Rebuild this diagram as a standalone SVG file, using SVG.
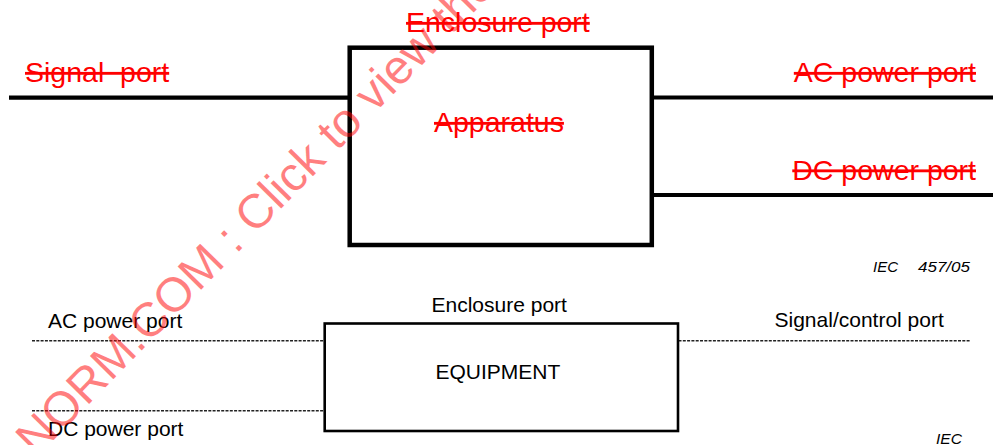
<svg xmlns="http://www.w3.org/2000/svg" width="1003" height="445" viewBox="0 0 1003 445">
<style>
.red{font-family:"Liberation Sans",Arial,sans-serif;font-size:28.5px;fill:#ff0000;text-decoration:line-through}
.blk{font-family:"Liberation Sans",Arial,sans-serif;font-size:21px;fill:#000}
.iec{font-family:"Liberation Sans",Arial,sans-serif;font-size:14.5px;font-style:italic;fill:#000}
.thick{stroke:#000;stroke-width:4.2;fill:none}
.dash{stroke:#222;stroke-width:1.6;stroke-dasharray:3 1.3;fill:none}
.wm{font-family:"Liberation Sans",Arial,sans-serif;font-size:48px;fill:#ff0000;fill-opacity:0.5}
</style>
<rect width="1003" height="445" fill="#fff"/>
<g id="connectors">
<line class="thick" x1="9" y1="97.6" x2="349.7" y2="97.6"/>
<line class="thick" x1="651.8" y1="97.5" x2="993" y2="97.5"/>
<line class="thick" x1="651.8" y1="195" x2="993" y2="195"/>
<line class="dash" x1="32" y1="340.8" x2="324.7" y2="340.8"/>
<line class="dash" x1="32" y1="410.8" x2="324.7" y2="410.8"/>
<line class="dash" x1="678.5" y1="340.8" x2="970" y2="340.8"/>
</g>
<g id="apparatus">
<rect x="349.7" y="47.7" width="302.1" height="197.3" fill="none" stroke="#000" stroke-width="4.5"/>
<text class="red" x="434" y="132">Apparatus</text>
</g>
<g id="top-labels">
<text class="red" x="406" y="32">Enclosure port</text>
<text class="red" x="25" y="82" xml:space="preserve">Signal  port</text>
<text class="red" x="976" y="82" text-anchor="end">AC power port</text>
<text class="red" x="976" y="179.5" text-anchor="end">DC power port</text>
<text class="iec" y="272"><tspan x="873" textLength="25" lengthAdjust="spacingAndGlyphs">IEC</tspan><tspan x="918" textLength="52" lengthAdjust="spacingAndGlyphs">457/05</tspan></text>
</g>
<g id="equipment">
<rect x="324.7" y="323.5" width="353.3" height="107.5" fill="none" stroke="#000" stroke-width="2.6"/>
<text class="blk" x="435.5" y="379">EQUIPMENT</text>
</g>
<g id="bottom-labels">
<text class="blk" x="431.5" y="312">Enclosure port</text>
<text class="blk" x="48" y="327.5">AC power port</text>
<text class="blk" x="48" y="436">DC power port</text>
<text class="blk" x="774.5" y="327">Signal/control port</text>
<text class="iec" x="936" y="443.5" textLength="26" lengthAdjust="spacingAndGlyphs">IEC</text>
</g>
<g id="watermark">
<text class="wm" transform="translate(36,458) rotate(-45.5)">NORM.COM : Click to view the</text>
</g>
</svg>
